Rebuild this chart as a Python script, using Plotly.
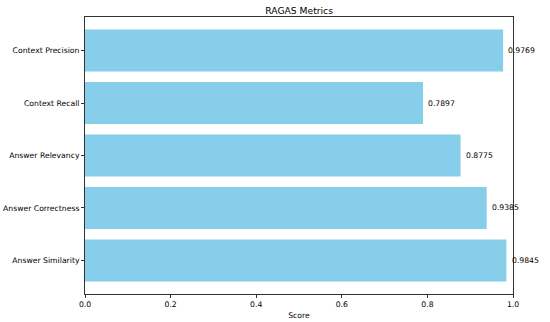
import plotly.graph_objects as go

metrics = ["Context Precision", "Context Recall", "Answer Relevancy",
           "Answer Correctness", "Answer Similarity"]
scores = [0.9769, 0.7897, 0.8775, 0.9385, 0.9845]
x_ticks = [0.0, 0.2, 0.4, 0.6, 0.8, 1.0]

FONT = "DejaVu Sans"

fig = go.Figure()
fig.add_trace(go.Bar(
    x=scores, y=metrics, orientation="h", width=0.8,
    marker=dict(color="#87CEEB", line=dict(width=0)),
    hoverinfo="skip",
))

for m, v in zip(metrics, scores):
    fig.add_annotation(x=v + 0.01, y=m, text=f"{v:.4f}", xanchor="left",
                       yanchor="middle", showarrow=False, borderpad=0,
                       font=dict(family=FONT, size=7.7, color="black"))

fig.update_layout(
    width=550, height=322,
    margin=dict(l=85, r=37, t=17, b=28, autoexpand=False),
    paper_bgcolor="white", plot_bgcolor="white",
    showlegend=False,
    title=dict(text="RAGAS Metrics", x=0.5439, xanchor="center",
               y=0.966, yanchor="middle",
               font=dict(family=FONT, size=9.2, color="black")),
    font=dict(family=FONT, size=7.7, color="black"),
)
fig.update_xaxes(
    range=[0, 1], tickvals=x_ticks, ticktext=[f"{t:.1f}" for t in x_ticks],
    showgrid=False, zeroline=False, showline=True, linecolor="#333",
    linewidth=1, mirror=True, ticks="outside", ticklen=3, tickcolor="#333",
    tickfont=dict(family=FONT, size=7.7, color="black"), automargin=False,
    title=dict(text="Score", font=dict(family=FONT, size=7.7, color="black"), standoff=4),
)
fig.update_yaxes(
    type="category", categoryorder="array", categoryarray=metrics,
    range=[4.64, -0.64], automargin=False,
    showgrid=False, zeroline=False, showline=True, linecolor="#333",
    linewidth=1, mirror=True, ticks="outside", ticklen=3, tickcolor="#333",
    tickfont=dict(family=FONT, size=7.7, color="black"),
)

fig.write_html("out.html", config={"displayModeBar": False},
               post_script="document.body.style.margin='0';document.body.style.overflow='hidden';")
